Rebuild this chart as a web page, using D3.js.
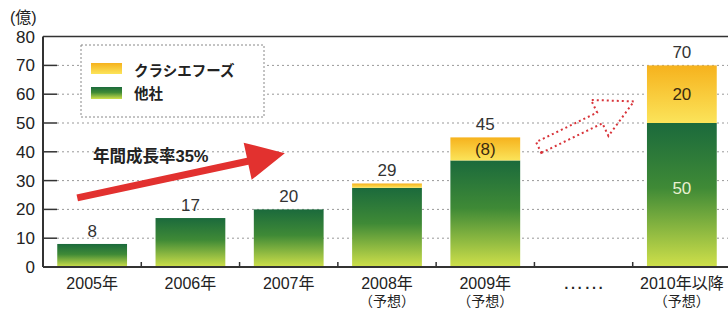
<!DOCTYPE html>
<html>
<head>
<meta charset="utf-8">
<script src="https://cdn.jsdelivr.net/npm/d3@7"></script>
<style>
  body { margin: 0; background: #fff; }
  svg { display: block; font-family: "Liberation Sans", "Noto Sans CJK JP", sans-serif; }
</style>
</head>
<body>
<div id="chart"></div>
<script>
// categories + series
const categories = ["2005年", "2006年", "2007年", "2008年", "2009年", "……", "2010年以降"];
const subLabels = ["", "", "", "（予想）", "（予想）", "", "（予想）"];
const others = [8, 17, 20, 27.5, 37, null, 50];   // 他社
const kracie = [0, 0, 0, 1.5, 8, null, 20];       // クラシエフーズ
const totals = [8, 17, 20, 29, 45, null, 70];
const kracieLabels = ["", "", "", "", "(8)", "", "20"];
const otherLabels = ["", "", "", "", "", "", "50"];
const yTicks = [0, 10, 20, 30, 40, 50, 60, 70, 80];

const W = 728, H = 309;
const svg = d3.select("#chart").append("svg")
    .attr("width", W).attr("height", H);

const x = d3.scaleBand().domain(categories)
    .range([43, 731]).paddingInner(0.29).paddingOuter(0.145);
const y = d3.scaleLinear().domain([0, 80]).range([267, 36.6]);

const defs = svg.append("defs");
const gGreen = defs.append("linearGradient").attr("id", "gGreen")
    .attr("x1", 0).attr("y1", 0).attr("x2", 0).attr("y2", 1);
gGreen.append("stop").attr("offset", "0%").attr("stop-color", "#1b6a3c");
gGreen.append("stop").attr("offset", "45%").attr("stop-color", "#3f8a36");
gGreen.append("stop").attr("offset", "100%").attr("stop-color", "#cfe04a");
const gYellow = defs.append("linearGradient").attr("id", "gYellow")
    .attr("x1", 0).attr("y1", 0).attr("x2", 0).attr("y2", 1);
gYellow.append("stop").attr("offset", "0%").attr("stop-color", "#f6b21d");
gYellow.append("stop").attr("offset", "100%").attr("stop-color", "#fbe45a");

// gridlines
svg.append("g").selectAll("line")
    .data(yTicks.filter(d => d > 0 && d < 80))
    .join("line")
        .attr("x1", 57).attr("x2", W)
        .attr("y1", d => y(d)).attr("y2", d => y(d))
        .attr("stroke", "#999").attr("stroke-width", 1)
        .attr("stroke-dasharray", "2,3");

// inward ticks on y axis
svg.append("g").selectAll("line")
    .data(yTicks.filter(d => d > 0 && d < 80))
    .join("line")
        .attr("x1", 43).attr("x2", 57)
        .attr("y1", d => y(d)).attr("y2", d => y(d))
        .attr("stroke", "#333").attr("stroke-width", 1.5);

// top frame line at 80
svg.append("line")
    .attr("x1", 43).attr("x2", W).attr("y1", y(80)).attr("y2", y(80))
    .attr("stroke", "#333").attr("stroke-width", 1.5);

// y labels
svg.append("g").selectAll("text")
    .data(yTicks)
    .join("text")
        .attr("x", 35).attr("y", d => y(d) + 6)
        .attr("text-anchor", "end")
        .attr("font-size", 17).attr("fill", "#222")
        .text(d => d);

svg.append("text").attr("x", 10).attr("y", 23)
    .attr("font-size", 16).attr("fill", "#222").text("(億)");

// legend
const lg = svg.append("g");
lg.append("rect").attr("x", 81).attr("y", 45).attr("width", 183).attr("height", 72)
    .attr("fill", "#fff").attr("stroke", "#888").attr("stroke-dasharray", "2,2");
lg.append("rect").attr("x", 91).attr("y", 63).attr("width", 31).attr("height", 11)
    .attr("fill", "url(#gYellow)");
lg.append("rect").attr("x", 91).attr("y", 87).attr("width", 31).attr("height", 12)
    .attr("fill", "url(#gGreen)");
lg.append("text").attr("x", 134).attr("y", 76).attr("font-size", 14.5)
    .attr("font-weight", "bold").attr("fill", "#222").text("クラシエフーズ");
lg.append("text").attr("x", 134).attr("y", 99).attr("font-size", 14.5)
    .attr("font-weight", "bold").attr("fill", "#222").text("他社");

// bars
const rows = categories.map((c, i) => ({
    c, other: others[i], kr: kracie[i], total: totals[i],
    krLab: kracieLabels[i], otLab: otherLabels[i]
})).filter(d => d.other !== null);

svg.append("g").selectAll("rect")
    .data(rows)
    .join("rect")
        .attr("x", d => x(d.c)).attr("width", x.bandwidth())
        .attr("y", d => y(d.other)).attr("height", d => y(0) - y(d.other))
        .attr("fill", "url(#gGreen)");

svg.append("g").selectAll("rect")
    .data(rows.filter(d => d.kr > 0))
    .join("rect")
        .attr("x", d => x(d.c)).attr("width", x.bandwidth())
        .attr("y", d => y(d.other + d.kr)).attr("height", d => y(d.other) - y(d.other + d.kr))
        .attr("fill", "url(#gYellow)");

// total labels
svg.append("g").selectAll("text")
    .data(rows)
    .join("text")
        .attr("x", d => x(d.c) + x.bandwidth() / 2)
        .attr("y", d => y(d.other + d.kr) - 7)
        .attr("text-anchor", "middle").attr("font-size", 17).attr("fill", "#333")
        .text(d => d.total);

// inner labels
svg.append("g").selectAll("text")
    .data(rows.filter(d => d.krLab))
    .join("text")
        .attr("x", d => x(d.c) + x.bandwidth() / 2)
        .attr("y", d => y(d.other + d.kr / 2) + 6)
        .attr("text-anchor", "middle").attr("font-size", 17).attr("fill", "#3a2a10")
        .text(d => d.krLab);
svg.append("g").selectAll("text")
    .data(rows.filter(d => d.otLab))
    .join("text")
        .attr("x", d => x(d.c) + x.bandwidth() / 2)
        .attr("y", d => y(d.other * 0.55) + 6)
        .attr("text-anchor", "middle").attr("font-size", 17).attr("fill", "#e8f0d0")
        .text(d => d.otLab);

// axes lines
svg.append("line").attr("x1", 43).attr("x2", 43).attr("y1", y(80)).attr("y2", y(0))
    .attr("stroke", "#333").attr("stroke-width", 2);
svg.append("line").attr("x1", 43).attr("x2", W).attr("y1", y(0)).attr("y2", y(0))
    .attr("stroke", "#333").attr("stroke-width", 2);

// category boundary ticks
svg.append("g").selectAll("line")
    .data(categories.slice(1))
    .join("line")
        .attr("x1", d => x(d) - x.step() * 0.145).attr("x2", d => x(d) - x.step() * 0.145)
        .attr("y1", y(0) - 5).attr("y2", y(0))
        .attr("stroke", "#333").attr("stroke-width", 1.5);

// x labels
const xl = svg.append("g").selectAll("g")
    .data(categories.map((c, i) => ({ c, sub: subLabels[i] })))
    .join("g");
xl.append("text")
    .attr("x", d => x(d.c) + x.bandwidth() / 2)
    .attr("y", d => d.c === "……" ? 289 : 289)
    .attr("text-anchor", "middle")
    .attr("font-size", d => d.c === "……" ? 21 : 16)
    .attr("fill", "#222")
    .text(d => d.c);
xl.append("text")
    .attr("x", d => x(d.c) + x.bandwidth() / 2)
    .attr("y", 306)
    .attr("text-anchor", "middle").attr("font-size", 14).attr("fill", "#222")
    .text(d => d.sub);

// arrow helper: polygon from tail to tip
function arrowPts(x0, y0, x1, y1, shaftW, headL, headW) {
    const dx = x1 - x0, dy = y1 - y0, len = Math.hypot(dx, dy);
    const ux = dx / len, uy = dy / len, nx = -uy, ny = ux;
    const bx = x1 - ux * headL, by = y1 - uy * headL;
    const p = [
        [x0 + nx * shaftW / 2, y0 + ny * shaftW / 2],
        [bx + nx * shaftW / 2, by + ny * shaftW / 2],
        [bx + nx * headW, by + ny * headW],
        [x1, y1],
        [bx - nx * headW, by - ny * headW],
        [bx - nx * shaftW / 2, by - ny * shaftW / 2],
        [x0 - nx * shaftW / 2, y0 - ny * shaftW / 2]
    ];
    return p.map(q => q.join(",")).join(" ");
}

// growth arrow
svg.append("polygon")
    .attr("points", arrowPts(x("2005年") + 20, y(24), x("2007年") + 31, y(39.5), 7, 38, 19))
    .attr("fill", "#e2312f");
svg.append("text").attr("x", 93).attr("y", 162)
    .attr("font-size", 16.5).attr("font-weight", "bold").attr("fill", "#222")
    .text("年間成長率35%");

// dotted hollow arrow
svg.append("polygon")
    .attr("points", arrowPts(x("……") - 10, y(41.5), x("2010年以降") - 13, y(57.5), 12, 38, 20))
    .attr("fill", "none").attr("stroke", "#d8343a").attr("stroke-width", 2)
    .attr("stroke-dasharray", "2,3");
</script>
</body>
</html>
